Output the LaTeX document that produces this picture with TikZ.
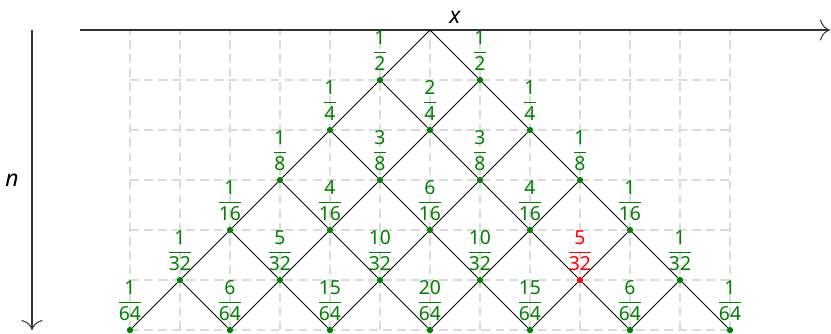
\documentclass[tikz,border=0pt]{standalone}
\usepackage{amsmath}
\usepackage{fontspec}
\setmainfont{Noto Sans}
\usepackage{tikz}
\usetikzlibrary{arrows.meta}
\definecolor{WalkGreen}{rgb}{0,0.5,0}
\tikzset{
  gridline/.style={draw=black!14, dash pattern=on 5pt off 3pt, line width=0.6pt},
  axisline/.style={-{To[length=2mm]}, draw=black!80, line width=0.6pt},
  walkedge/.style={draw=black, line width=0.5pt},
  walkdot/.style={circle, fill=WalkGreen, inner sep=0pt, minimum size=3.6pt},
  walklabel/.style={text=WalkGreen, inner sep=3pt, font=\fontsize{11}{13}\selectfont},
  axislabel/.style={font=\fontsize{13}{15}\selectfont\itshape}
}
\newcommand{\probfrac}[2]{$\dfrac{\text{#1}}{\text{#2}}$}

\begin{document}
\begin{tikzpicture}
  \useasboundingbox (-8.6,0.6) rectangle (8.02,-6.06);
  % grid and axes
  \draw[gridline] (-6,-6) grid (6,0);
  \coordinate (d-0-0) at (0,0);
  \coordinate (xstart) at (-7,0);
  \coordinate (xend) at (8,0);
  \coordinate (nstart) at (-7.96,0);
  \coordinate (nend) at (-7.96,-6);
  \draw[axisline] (xstart) -- node[axislabel, above=0pt] (xlabel) {x} (xend);
  \draw[axisline] (nstart) -- node[axislabel, left=4pt] (nlabel) {n} (nend);
  % lattice points with probabilities
  \foreach \n/\den/\nums in {1/2/{1,1}, 2/4/{1,2,1}, 3/8/{1,3,3,1},
      4/16/{1,4,6,4,1}, 5/32/{1,5,10,10,5,1}, 6/64/{1,6,15,20,15,6,1}} {
    \foreach \num [count=\k from 0] in \nums {
      \def\dotcol{WalkGreen}
      \ifnum\n=5 \ifnum\k=4 \def\dotcol{red}\fi\fi
      \node[walkdot, fill=\dotcol,
        label={[walklabel, text=\dotcol]above:\probfrac{\num}{\den}}]
        (d-\n-\k) at ({-\n+2*\k},-\n) {};
    }
  }
  % steps of the walk
  \foreach \n in {0,...,5} {
    \foreach \k in {0,...,\n} {
      \pgfmathtruncatemacro\m{\n+1}
      \pgfmathtruncatemacro\j{\k+1}
      \draw[walkedge] (d-\n-\k) -- (d-\m-\k);
      \draw[walkedge] (d-\n-\k) -- (d-\m-\j);
    }
  }
\end{tikzpicture}
\end{document}
